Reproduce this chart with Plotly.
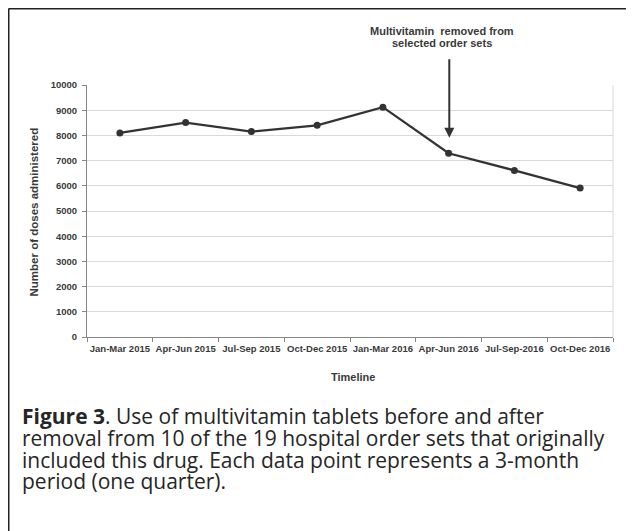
import plotly.graph_objects as go

quarters = ["Jan-Mar 2015", "Apr-Jun 2015", "Jul-Sep 2015", "Oct-Dec 2015",
            "Jan-Mar 2016", "Apr-Jun 2016", "Jul-Sep-2016", "Oct-Dec 2016"]
doses = [8100, 8510, 8150, 8400, 9120, 7290, 6610, 5910]
y_ticks = [0, 1000, 2000, 3000, 4000, 5000, 6000, 7000, 8000, 9000, 10000]

OFF = 8                      # page body margin
W, H = 634 - OFF, 531 - OFF
L, R, T, B = 87 - OFF, 21, 85 - OFF, 194
PW, PH = W - L - R, H - T - B


def px(x):
    return (x - OFF - L) / PW


def py(y):
    return (H - B - (y - OFF)) / PH


fig = go.Figure()
fig.add_trace(go.Scatter(
    x=quarters, y=doses, mode="lines+markers",
    line=dict(color="#333333", width=2.3),
    marker=dict(color="#333333", size=7),
    showlegend=False, hoverinfo="x+y",
))

axis_font = dict(family="Liberation Sans, Arial, sans-serif", size=9.5, color="#3a3a3a", weight="bold")

fig.update_layout(
    width=W, height=H,
    margin=dict(l=L, r=R, t=T, b=B, pad=0),
    paper_bgcolor="white", plot_bgcolor="white",
    xaxis=dict(
        type="category", range=[-0.5, 7.5], tickson="boundaries", tickangle=0,
        ticks="outside", ticklen=4, tickcolor="#868686", tickwidth=1,
        showline=True, linecolor="#868686", linewidth=1,
        showgrid=False, tickfont=axis_font, ticklabelstandoff=3, fixedrange=True,
    ),
    yaxis=dict(
        range=[0, 10000], tickvals=y_ticks, ticktext=[str(v) for v in y_ticks],
        ticks="outside", ticklen=4, tickcolor="#868686", tickwidth=1,
        showline=True, linecolor="#868686", linewidth=1,
        showgrid=True, gridcolor="#d9d9d9", gridwidth=1, zeroline=False,
        tickfont=axis_font, ticklabelstandoff=3, fixedrange=True,
    ),
)

shapes = [
    # light right border of plot area
    dict(type="line", xref="paper", yref="paper", x0=1, x1=1, y0=0, y1=1,
         line=dict(color="#d9d9d9", width=1)),
    # outer frame (top and left)
    dict(type="line", xref="paper", yref="paper", x0=px(8.6), x1=px(650), y0=py(8.6), y1=py(8.6),
         line=dict(color="#222222", width=1.8)),
    dict(type="line", xref="paper", yref="paper", x0=px(8.6), x1=px(8.6), y0=py(8.6), y1=py(560),
         line=dict(color="#222222", width=1.8)),
]
fig.update_layout(shapes=shapes)

lbl_font = dict(family="Liberation Sans, Arial, sans-serif", size=11, color="#3a3a3a", weight="bold")
cap_font = dict(family="Open Sans, Noto Sans, sans-serif", size=21, color="#262626")

annotations = [
    # arrow
    dict(xref="paper", yref="paper", x=px(449.3), y=py(137.7), text="", showarrow=True,
         ax=0, ay=-80, arrowhead=2, arrowsize=1, arrowwidth=2, arrowcolor="#333333"),
    dict(xref="paper", yref="paper", x=px(442), y=py(30.7), text="Multivitamin  removed from",
         showarrow=False, font=lbl_font, xanchor="center", yanchor="middle", borderpad=0),
    dict(xref="paper", yref="paper", x=px(442), y=py(43.5), text="selected order sets",
         showarrow=False, font=lbl_font, xanchor="center", yanchor="middle", borderpad=0),
    # axis titles
    dict(xref="paper", yref="paper", x=px(352.5), y=py(377), text="Timeline",
         showarrow=False, font=lbl_font, xanchor="center", yanchor="middle"),
    dict(xref="paper", yref="paper", x=px(33.5), y=py(212), text="Number of doses administered",
         showarrow=False, textangle=-90,
         font=dict(family="Liberation Sans, Arial, sans-serif", size=11.5, color="#3a3a3a", weight="bold"),
         xanchor="center", yanchor="middle"),
]

caption_lines = [
    "<b>Figure 3</b>. Use of multivitamin tablets before and after",
    "removal from 10 of the 19 hospital order sets that originally",
    "included this drug. Each data point represents a 3-month",
    "period (one quarter).",
]
caption_y = [416, 438, 459.5, 481]
for line, yy in zip(caption_lines, caption_y):
    annotations.append(dict(xref="paper", yref="paper", x=px(22), y=py(yy), text=line,
                            showarrow=False, font=cap_font, xanchor="left", yanchor="middle",
                            borderpad=0, borderwidth=0))

fig.update_layout(annotations=annotations)
fig.write_html("out.html")
